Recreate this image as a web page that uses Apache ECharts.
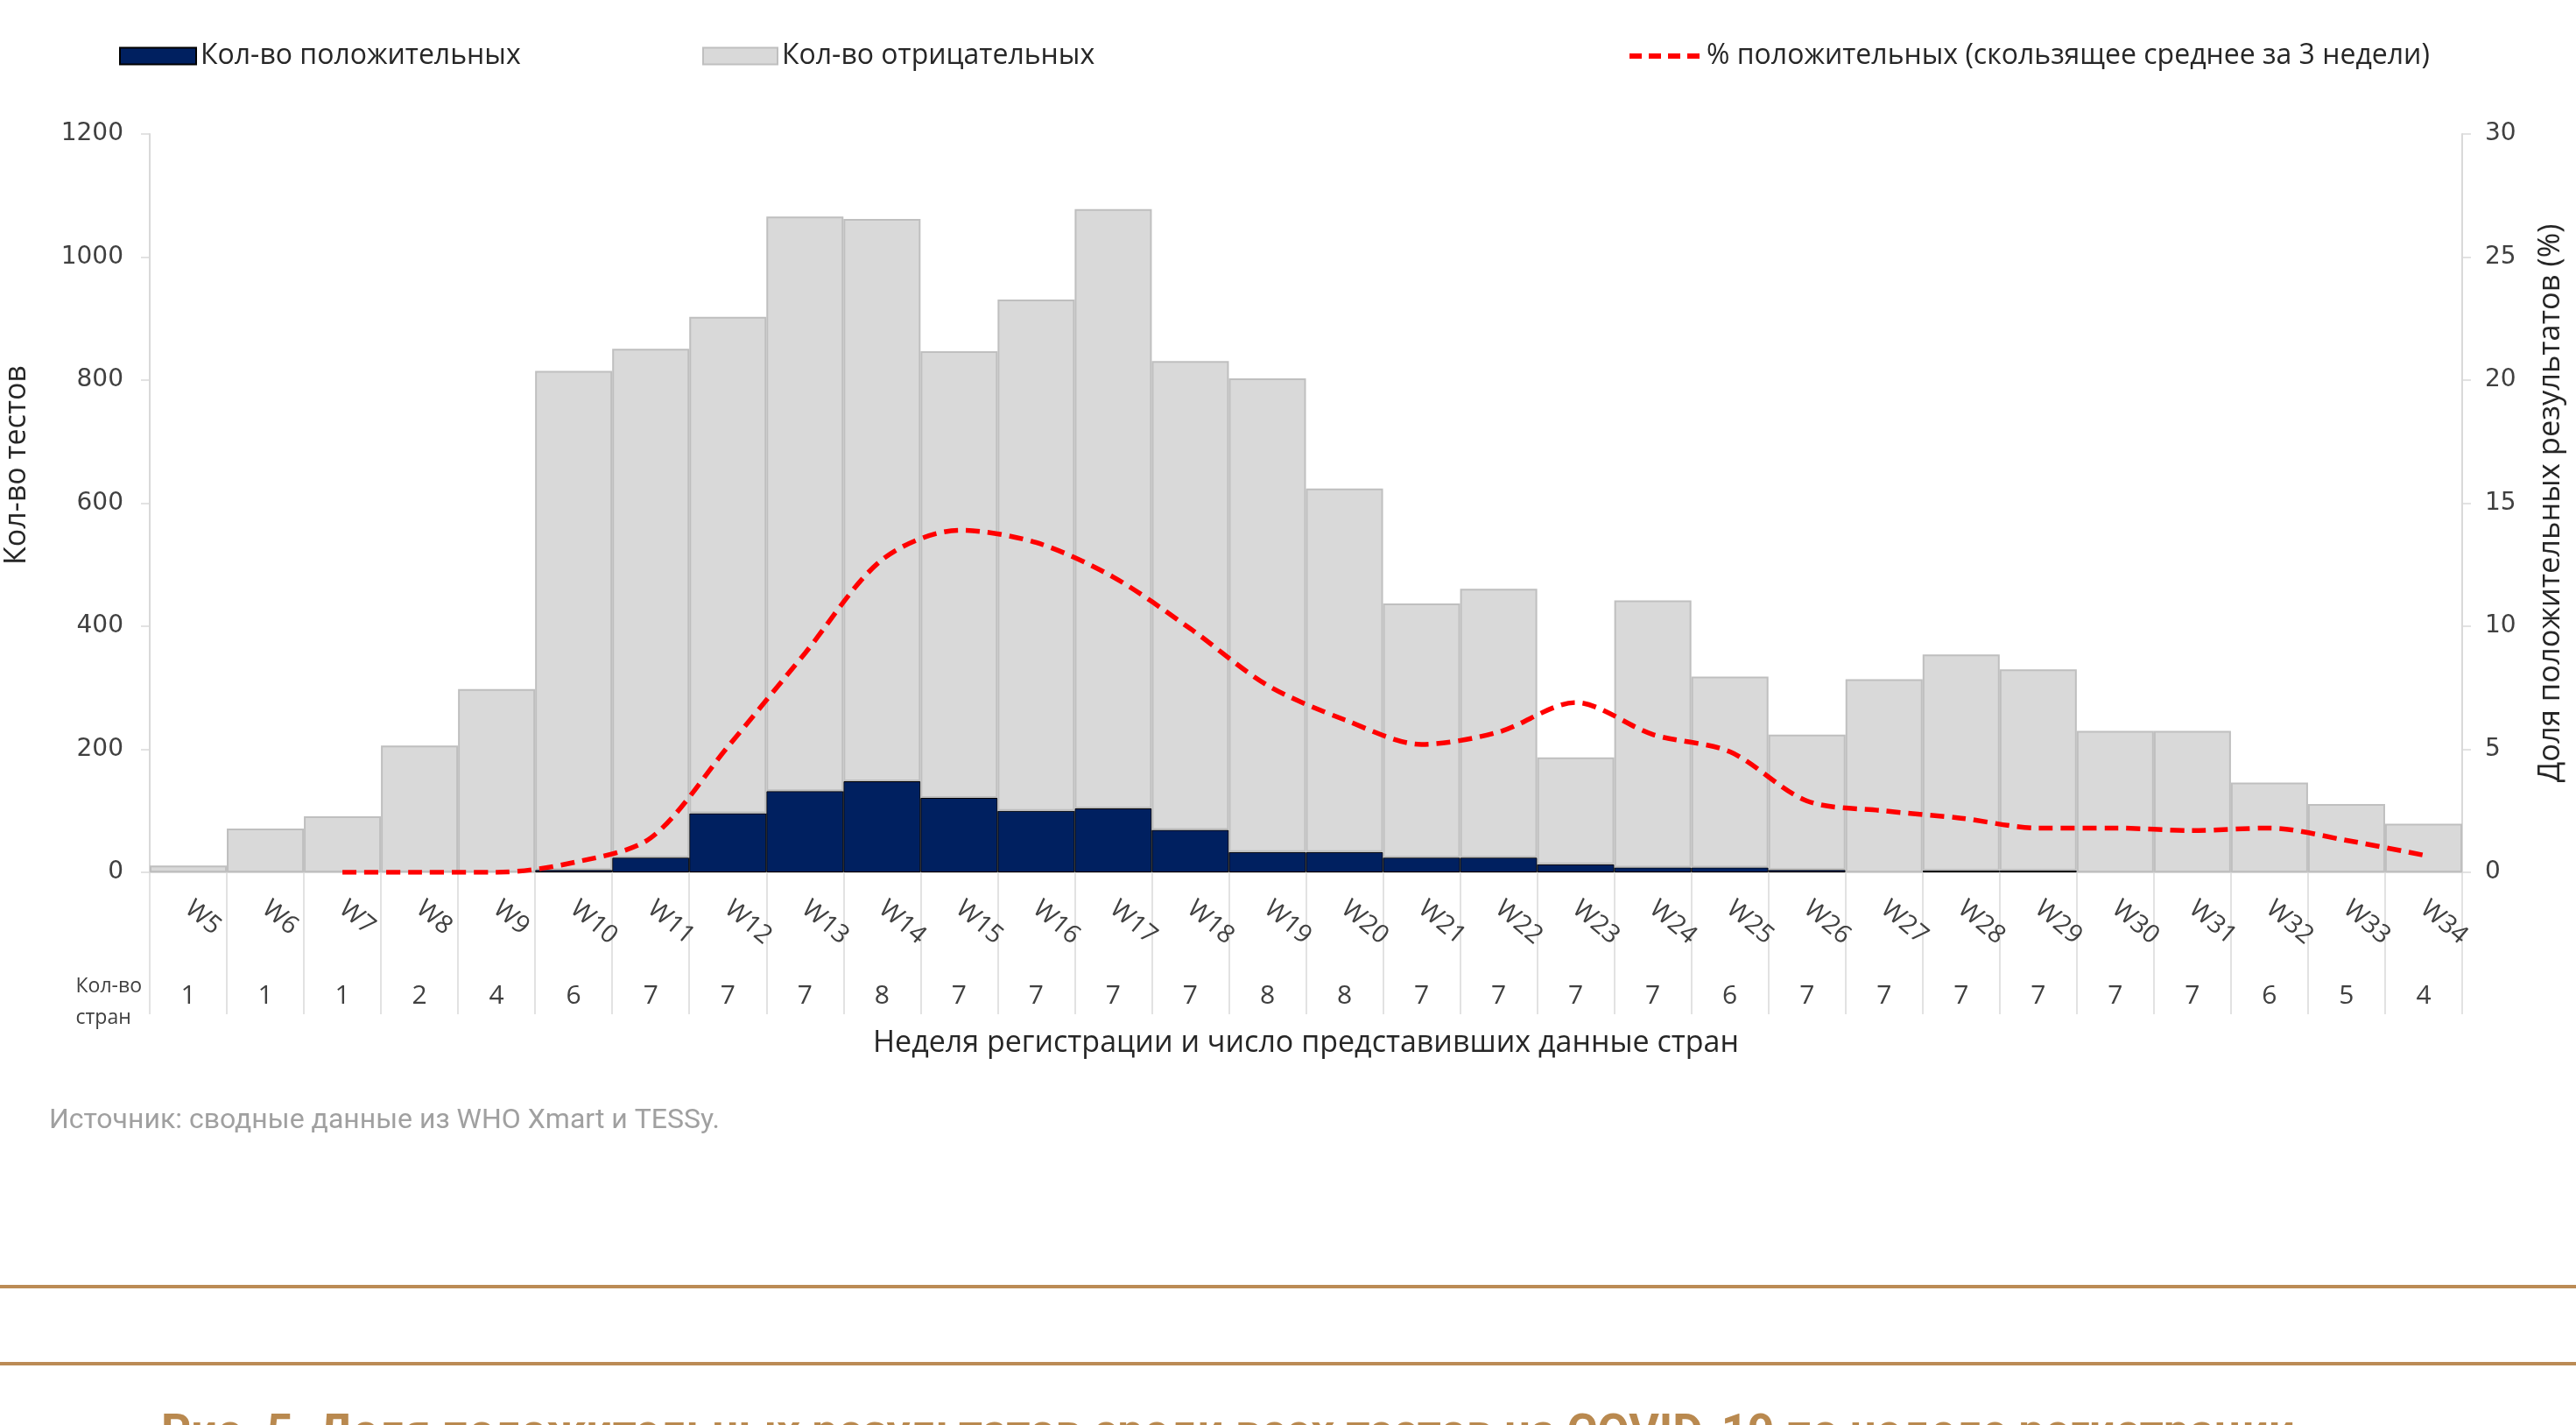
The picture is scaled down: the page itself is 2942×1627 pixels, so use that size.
<!DOCTYPE html>
<html>
<head>
<meta charset="utf-8">
<title>Доля положительных результатов</title>
<script src="https://cdn.jsdelivr.net/npm/echarts@6/dist/echarts.min.js"></script>
<style>
  html, body {
    margin: 0;
    padding: 0;
    background: #fff;
  }
  #chart {
    width: 2942px;
    height: 1627px;
  }
</style>
</head>
<body>
<div id="chart"></div>
<script>
// недели регистрации
const weeks = ['W5', 'W6', 'W7', 'W8', 'W9', 'W10', 'W11', 'W12', 'W13', 'W14',
  'W15', 'W16', 'W17', 'W18', 'W19', 'W20', 'W21', 'W22', 'W23', 'W24',
  'W25', 'W26', 'W27', 'W28', 'W29', 'W30', 'W31', 'W32', 'W33', 'W34'];
// кол-во стран, представивших данные
const countries = [1, 1, 1, 2, 4, 6, 7, 7, 7, 8, 7, 7, 7, 7, 8, 8, 7, 7, 7, 7,
  6, 7, 7, 7, 7, 7, 7, 6, 5, 4];
// кол-во положительных тестов
const positive = [0, 0, 0, 0, 0, 4, 24, 96, 132, 148, 121, 100, 104, 69, 33, 33,
  24, 24, 13, 8, 8, 4, 0, 3, 3, 0, 0, 0, 0, 0];
// кол-во отрицательных тестов
const negative = [11, 71, 91, 206, 298, 811, 827, 807, 934, 914, 726, 831, 974,
  762, 770, 591, 413, 437, 174, 434, 310, 220, 314, 351, 327, 230, 230, 146, 111, 79];
// % положительных, скользящее среднее за 3 недели
const pctPositive = [null, null, 0, 0, 0, 0.4, 1.4, 5.1, 8.9, 12.7, 13.9, 13.4,
  12.0, 9.9, 7.6, 6.2, 5.2, 5.7, 6.9, 5.6, 4.9, 2.9, 2.5, 2.2, 1.8, 1.8, 1.7,
  1.8, 1.3, 0.7];

const leftTicks = { min: 0, max: 1200, interval: 200 };
const rightTicks = { min: 0, max: 30, interval: 5 };

const txt = '#404040';
const axisGray = '#d9d9d9';
const sans = 'Open Sans';
const red = '#ff0000';

const chart = echarts.init(document.getElementById('chart'));

const option = {
  backgroundColor: '#fff',
  animation: false,
  grid: {
    left: 171,
    right: 130,
    top: 153,
    bottom: 631,
    containLabel: false,
    outerBoundsMode: 'none',
  },
  legend: [
    {
      left: 131,
      top: 43,
      icon: 'rect',
      itemWidth: 87,
      itemHeight: 19,
      textStyle: { fontFamily: sans, fontSize: 32, color: '#262626' },
      data: ['Кол-во положительных'],
    },
    {
      left: 797,
      top: 43,
      icon: 'rect',
      itemWidth: 85,
      itemHeight: 19,
      textStyle: { fontFamily: sans, fontSize: 32, color: '#262626' },
      data: ['Кол-во отрицательных'],
    },
    {
      left: 1853,
      top: 43,
      itemWidth: 83,
      itemHeight: 19,
      itemStyle: { opacity: 0 },
      lineStyle: { color: red, width: 6, type: [14, 8], opacity: 1 },
      textStyle: { fontFamily: sans, fontSize: 32, color: '#262626' },
      data: ['% положительных (скользящее среднее за 3 недели)'],
    },
  ],
  xAxis: [
    {
      type: 'category',
      data: weeks,
      boundaryGap: true,
      name: 'Неделя регистрации и число представивших данные стран',
      nameLocation: 'middle',
      nameGap: 178,
      nameTextStyle: { fontFamily: sans, fontSize: 34, color: '#262626' },
      axisLine: { lineStyle: { color: axisGray, width: 2 } },
      axisTick: {
        show: true,
        interval: 0,
        length: 162,
        lineStyle: { color: axisGray, width: 1.5 },
      },
      axisLabel: {
        interval: 0,
        rotate: -40,
        margin: 38,
        fontFamily: sans,
        fontSize: 29,
        color: txt,
      },
    },
    {
      // строка с числом стран
      type: 'category',
      data: countries.map(String),
      position: 'bottom',
      offset: 120,
      axisLine: { show: false },
      axisTick: { show: false },
      axisLabel: {
        interval: 0,
        margin: 6,
        fontFamily: sans,
        fontSize: 30,
        color: txt,
      },
    },
  ],
  yAxis: [
    {
      type: 'value',
      min: leftTicks.min,
      max: leftTicks.max,
      interval: leftTicks.interval,
      splitLine: { show: false },
      axisLine: { show: true, lineStyle: { color: axisGray, width: 2 } },
      axisTick: { show: true, length: 10, lineStyle: { color: axisGray, width: 1.5 } },
      axisLabel: {
        margin: 30,
        fontFamily: 'DejaVu Sans',
        fontSize: 28,
        color: txt,
        formatter: (v) => String(v),
      },
    },
    {
      type: 'value',
      min: rightTicks.min,
      max: rightTicks.max,
      interval: rightTicks.interval,
      name: 'Доля положительных результатов (%)',
      nameLocation: 'middle',
      nameRotate: 90,
      nameGap: 84,
      nameTextStyle: { fontFamily: sans, fontSize: 34.5, color: '#262626' },
      splitLine: { show: false },
      axisLine: { show: true, lineStyle: { color: axisGray, width: 2 } },
      axisTick: { show: true, length: 10, lineStyle: { color: axisGray, width: 1.5 } },
      axisLabel: {
        margin: 26,
        fontFamily: 'DejaVu Sans',
        fontSize: 28,
        color: txt,
        formatter: (v) => String(v),
      },
    },
  ],
  series: [
    {
      name: 'Кол-во положительных',
      type: 'bar',
      stack: 'tests',
      barCategoryGap: '0%',
      itemStyle: { color: '#002060', borderColor: '#000', borderWidth: 1 },
      data: positive.map((v) => (v === 0 ? { value: 0, itemStyle: { borderWidth: 0 } } : v)),
    },
    {
      name: 'Кол-во отрицательных',
      type: 'bar',
      stack: 'tests',
      barCategoryGap: '0%',
      itemStyle: { color: '#d9d9d9', borderColor: '#bfbfbf', borderWidth: 2 },
      data: negative,
    },
    {
      name: '% положительных (скользящее среднее за 3 недели)',
      type: 'line',
      yAxisIndex: 1,
      smooth: 0.3,
      symbol: 'none',
      itemStyle: { color: red },
      lineStyle: { color: red, width: 5.5, type: [16, 9] },
      data: pctPositive,
    },
  ],
  graphic: [
    {
      // название левой оси (смещено вверх, как в оригинале)
      type: 'text',
      x: 19,
      y: 531,
      rotation: Math.PI / 2,
      style: {
        text: 'Кол-во тестов',
        align: 'center',
        verticalAlign: 'middle',
        fontFamily: sans,
        fontSize: 34,
        fill: '#262626',
      },
    },
    {
      type: 'text',
      right: 2942 - 162,
      top: 1108,
      style: {
        text: 'Кол-во\nстран',
        align: 'right',
        fontFamily: sans,
        fontSize: 23,
        lineHeight: 36,
        fill: txt,
      },
    },
    {
      type: 'text',
      left: 56,
      top: 1264,
      style: {
        text: 'Источник: сводные данные из WHO Xmart и TESSy.',
        fontFamily: 'Roboto',
        fontSize: 32,
        fill: '#a0a0a0',
      },
    },
    {
      type: 'rect',
      shape: { x: 0, y: 1467, width: 2942, height: 4 },
      style: { fill: '#bb8b55' },
    },
    {
      type: 'rect',
      shape: { x: 0, y: 1555, width: 2942, height: 4 },
      style: { fill: '#bb8b55' },
    },
    {
      type: 'text',
      left: 184,
      top: 1612,
      style: {
        text: 'Рис. 5. Доля положительных результатов среди всех тестов на COVID-19 по неделе регистрации',
        fontFamily: 'Roboto',
        fontWeight: 'bold',
        fontSize: 53,
        fill: '#b9894f',
      },
    },
  ],
};

chart.setOption(option);
window.addEventListener('resize', () => {
  chart.resize();
});
</script>
</body>
</html>
